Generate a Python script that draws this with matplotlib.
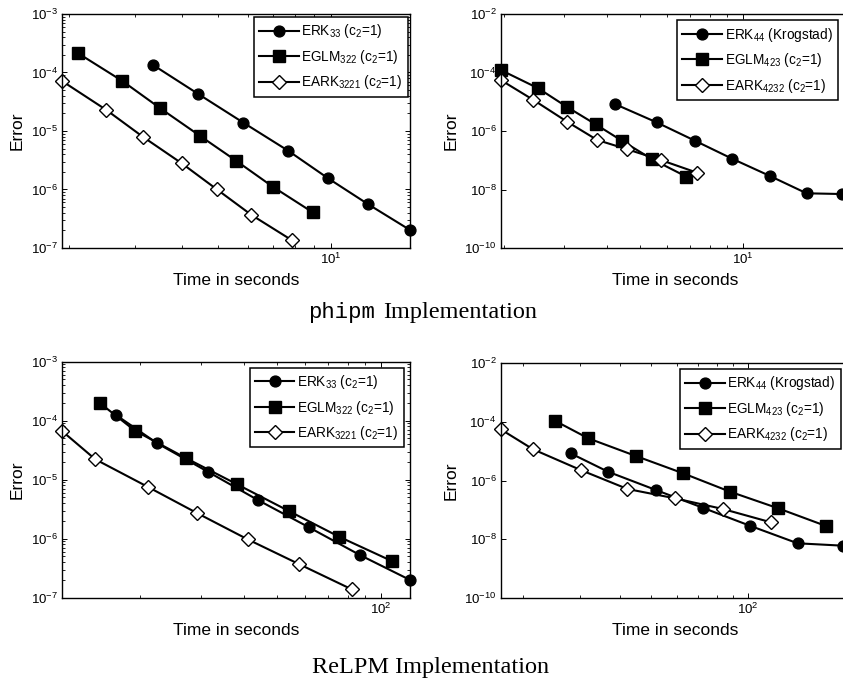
import numpy as np
import matplotlib
matplotlib.use('Agg')
import matplotlib.pyplot as plt
from matplotlib.ticker import LogFormatterSciNotation, NullFormatter, FixedLocator

plt.rcParams.update({
    'font.family': 'Liberation Sans',
    'mathtext.fontset': 'custom',
    'mathtext.rm': 'Liberation Sans',
    'mathtext.it': 'Liberation Sans',
    'mathtext.bf': 'Liberation Sans:bold',
    'mathtext.default': 'regular',
    'xtick.direction': 'in', 'ytick.direction': 'in',
    'xtick.top': True, 'ytick.right': True,
    'xtick.major.size': 3.5, 'ytick.major.size': 3.5,
    'xtick.minor.size': 2.0, 'ytick.minor.size': 2.0,
    'xtick.major.width': 0.7, 'ytick.major.width': 0.7,
    'xtick.minor.width': 0.6, 'ytick.minor.width': 0.6,
    'axes.linewidth': 1.0,
})

# ---- phipm, 3rd order schemes ----
t_erk33_p  = [3.36, 4.43, 5.84, 7.69, 9.83, 12.57, 16.24]
e_erk33_p  = [1.34e-4, 4.29e-5, 1.39e-5, 4.60e-6, 1.55e-6, 5.58e-7, 2.03e-7]
t_eglm322_p = [2.12, 2.78, 3.51, 4.47, 5.60, 6.99, 8.94]
e_eglm322_p = [2.13e-4, 7.16e-5, 2.44e-5, 8.31e-6, 3.07e-6, 1.12e-6, 4.07e-7]
t_eark3221_p = [1.92, 2.52, 3.15, 4.00, 4.96, 6.14, 7.85]
e_eark3221_p = [7.16e-5, 2.29e-5, 8.0e-6, 2.81e-6, 1.01e-6, 3.67e-7, 1.37e-7]

# ---- phipm, 4th order schemes ----
t_erk44_p  = [4.24, 5.59, 7.24, 9.30, 12.0, 15.36, 19.5]
e_erk44_p  = [8.18e-6, 1.98e-6, 4.66e-7, 1.13e-7, 2.90e-8, 7.41e-9, 7.0e-9]
t_eglm423_p = [1.957, 2.52, 3.05, 3.71, 4.44, 5.43, 6.84]
e_eglm423_p = [1.22e-4, 2.88e-5, 6.78e-6, 1.69e-6, 4.55e-7, 1.08e-7, 2.74e-8]
t_eark4232_p = [1.957, 2.44, 3.06, 3.75, 4.59, 5.75, 7.35]
e_eark4232_p = [5.54e-5, 1.15e-5, 2.08e-6, 4.92e-7, 2.37e-7, 1.02e-7, 3.75e-8]

# ---- ReLPM, 3rd order schemes ----
t_erk33_r  = [17.0, 22.4, 31.4, 43.9, 61.8, 86.9, 121.5]
e_erk33_r  = [1.25e-4, 4.14e-5, 1.37e-5, 4.53e-6, 1.56e-6, 5.29e-7, 2.0e-7]
t_eglm322_r = [15.3, 19.3, 27.2, 38.2, 54.0, 75.6, 107.5]
e_eglm322_r = [1.97e-4, 6.77e-5, 2.31e-5, 8.36e-6, 2.95e-6, 1.08e-6, 4.19e-7]
t_eark3221_r = [11.85, 14.8, 21.0, 29.3, 41.0, 58.0, 82.2]
e_eark3221_r = [6.69e-5, 2.22e-5, 7.60e-6, 2.70e-6, 9.77e-7, 3.68e-7, 1.39e-7]

# ---- ReLPM, 4th order schemes ----
t_erk44_r  = [28.1, 36.7, 51.7, 72.2, 101.2, 142.3, 197.2]
e_erk44_r  = [8.48e-6, 2.0e-6, 4.74e-7, 1.18e-7, 2.86e-8, 7.19e-9, 5.95e-9]
t_eglm423_r = [25.1, 31.9, 44.8, 62.8, 87.8, 124.0, 174.3]
e_eglm423_r = [1.10e-4, 2.75e-5, 6.86e-6, 1.76e-6, 4.15e-7, 1.12e-7, 2.80e-8]
t_eark4232_r = [17.06, 21.5, 30.2, 42.2, 59.2, 83.6, 117.6]
e_eark4232_r = [5.59e-5, 1.16e-5, 2.28e-6, 5.13e-7, 2.47e-7, 1.06e-7, 3.74e-8]

labels3 = ['ERK$_{33}$ (c$_{2}$=1)', 'EGLM$_{322}$ (c$_{2}$=1)',
           'EARK$_{3221}$ (c$_{2}$=1)']
labels4 = ['ERK$_{44}$ (Krogstad)', 'EGLM$_{423}$ (c$_{2}$=1)',
           'EARK$_{4232}$ (c$_{2}$=1)']

W, H = 843, 684
fig = plt.figure(figsize=(W / 100, H / 100), dpi=100)


def add_axes(left, top, bottom, width=348):
    return fig.add_axes([left / W, 1 - bottom / H, width / W, (bottom - top) / H])


def draw(ax, series, labels, xlim, ylim, yticks, leg_anchor):
    styles = [dict(marker='o', mfc='k', ms=7.8),
              dict(marker='s', mfc='k', ms=8.0),
              dict(marker='D', mfc='white', ms=7.4)]
    for (t, e), lab, st in zip(series, labels, styles):
        ax.loglog(t, e, color='k', lw=1.5, mec='k', mew=1.0, label=lab,
                  clip_on=False, **st)
    ax.set_xlim(*xlim)
    ax.set_ylim(*ylim)
    ax.yaxis.set_major_locator(FixedLocator(yticks))
    ax.yaxis.set_major_formatter(LogFormatterSciNotation())
    ax.xaxis.set_minor_formatter(NullFormatter())
    ax.yaxis.set_minor_formatter(NullFormatter())
    if len(yticks) > 5:
        ax.yaxis.set_minor_locator(FixedLocator([1e-9, 1e-7, 1e-5, 1e-3]))
    ax.tick_params(labelsize=9.5, pad=3)
    ax.set_xlabel('Time in seconds', fontsize=12.5, labelpad=4)
    ax.set_ylabel('Error', fontsize=12.5, labelpad=4)
    leg = ax.legend(loc='upper right', bbox_to_anchor=leg_anchor,
                    borderaxespad=0, fancybox=False, framealpha=1,
                    edgecolor='k', fontsize=9.8, handlelength=2.9,
                    handletextpad=0.2, labelspacing=0.55, borderpad=0.4,
                    numpoints=1)
    leg.get_frame().set_linewidth(1.1)


ax1 = add_axes(62, 14, 248)
draw(ax1, [(t_erk33_p, e_erk33_p), (t_eglm322_p, e_eglm322_p),
           (t_eark3221_p, e_eark3221_p)], labels3,
     (1.92, 16.24), (1e-7, 1e-3), [1e-7, 1e-6, 1e-5, 1e-4, 1e-3],
     (0.994, 0.987))

ax2 = add_axes(500.7, 14, 248)
draw(ax2, [(t_erk44_p, e_erk44_p), (t_eglm423_p, e_eglm423_p),
           (t_eark4232_p, e_eark4232_p)], labels4,
     (1.957, 20.4), (1e-10, 1e-2), [1e-10, 1e-8, 1e-6, 1e-4, 1e-2],
     (0.969, 0.974))

ax3 = add_axes(62, 361.7, 597.7)
draw(ax3, [(t_erk33_r, e_erk33_r), (t_eglm322_r, e_eglm322_r),
           (t_eark3221_r, e_eark3221_r)], labels3,
     (11.85, 121.5), (1e-7, 1e-3), [1e-7, 1e-6, 1e-5, 1e-4, 1e-3],
     (0.982, 0.975))

ax4 = add_axes(500.7, 363.3, 597.7)
draw(ax4, [(t_erk44_r, e_erk44_r), (t_eglm423_r, e_eglm423_r),
           (t_eark4232_r, e_eark4232_r)], labels4,
     (17.06, 205), (1e-10, 1e-2), [1e-10, 1e-8, 1e-6, 1e-4, 1e-2],
     (0.977, 0.976))

# captions under each row
fig.text(308 / W, 1 - 318 / H, 'phipm', family='Liberation Mono',
         fontsize=16, va='baseline', ha='left')
fig.text(383 / W, 1 - 318 / H, 'Implementation', family='Liberation Serif',
         fontsize=17.5, va='baseline', ha='left')
fig.text(312 / W, 1 - 673 / H, 'ReLPM Implementation', family='Liberation Serif',
         fontsize=17.5, va='baseline', ha='left')

fig.savefig('out.png', dpi=100)
